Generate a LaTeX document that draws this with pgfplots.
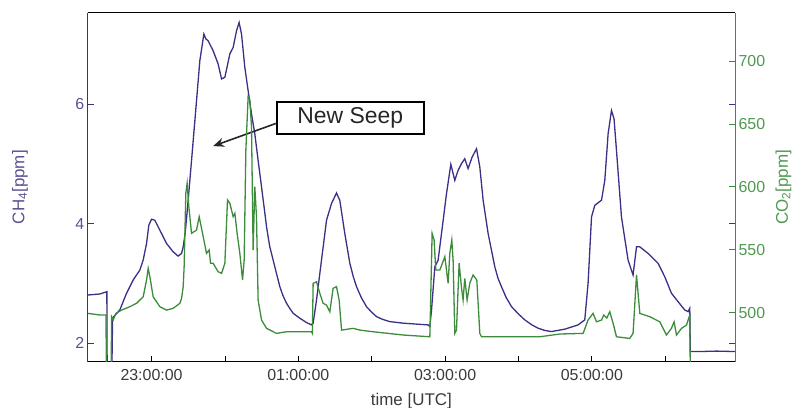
\documentclass[border=0pt]{standalone}
\usepackage{fontspec}
\setmainfont{Liberation Sans}
\usepackage{pgfplots}
\pgfplotsset{compat=1.18}
\usetikzlibrary{arrows.meta}
\definecolor{chfour}{HTML}{3D2E86}
\definecolor{cotwo}{HTML}{3C8C3C}
\definecolor{chlab}{HTML}{5A5090}
\definecolor{colab}{HTML}{4E9A4E}
\definecolor{xlab}{HTML}{3A3A3A}
\begin{document}
\begin{tikzpicture}
\begin{axis}[
  name=main,
  scale only axis, width=647.3bp, height=349bp,
  xmin=22.13, xmax=30.95, ymin=1.693, ymax=7.527,
  separate axis lines,
  x axis line style={black, line width=0.9bp},
  y axis line style={chfour, line width=0.9bp},
  xtick pos=bottom, ytick pos=both,
  tick align=inside,
  major tick length=6bp,
  x tick style={black, line width=0.8bp},
  y tick style={chfour, line width=0.8bp},
  xtick={23,24,25,26,27,28,29,30},
  xticklabels={23:00:00,,01:00:00,,03:00:00,,05:00:00,},
  ytick={2,4,6}, yticklabels={2,4,6},
  xticklabel style={xlab, font=\fontsize{16}{18}\selectfont, yshift=-4bp},
  yticklabel style={chlab, font=\fontsize{16}{18}\selectfont},
  xlabel={time [UTC]},
  xlabel style={at={(axis description cs:0.5,-0.112)}, anchor=center, xlab, font=\fontsize{17}{19}\selectfont},
  ylabel={CH\textsubscript{4}[ppm]},
  ylabel style={at={(axis description cs:-0.1046,0.5)}, anchor=center, chlab, font=\fontsize{17}{19}\selectfont},
]
\coordinate (bl) at (rel axis cs:0,0);
\coordinate (tr) at (rel axis cs:1,1);
\addplot[chfour, line width=1.3bp] coordinates {
(22.132,2.808) (22.296,2.825) (22.391,2.863) (22.395,1.6) (22.460,1.6)
(22.469,2.425) (22.568,2.558) (22.659,2.837) (22.749,3.058) (22.841,3.225)
(22.886,3.392) (22.932,3.670) (22.963,3.975) (23.000,4.075) (23.045,4.058)
(23.113,3.892) (23.204,3.670) (23.294,3.530) (23.362,3.458) (23.409,3.503)
(23.431,3.613) (23.458,3.837) (23.499,4.392) (23.545,5.058) (23.613,6.058)
(23.658,6.725) (23.713,7.170) (23.740,7.090) (23.771,7.058) (23.839,6.892)
(23.907,6.670) (23.954,6.420) (23.999,6.447) (24.067,6.837) (24.112,6.947)
(24.158,7.225) (24.193,7.363) (24.226,7.170) (24.271,6.613) (24.316,6.225)
(24.362,5.837) (24.407,5.503) (24.452,5.058) (24.499,4.613) (24.567,3.947)
(24.610,3.620) (24.657,3.392) (24.700,3.180) (24.748,2.947) (24.790,2.800)
(24.839,2.670) (24.880,2.590) (24.929,2.503) (25.020,2.420)
(25.112,2.347) (25.180,2.308) (25.202,2.337) (25.248,2.725) (25.316,3.392)
(25.384,4.058) (25.452,4.337) (25.520,4.513) (25.565,4.392) (25.633,3.837)
(25.702,3.337) (25.750,3.110) (25.793,2.947) (25.860,2.760) (25.929,2.613)
(26.000,2.520) (26.065,2.447) (26.150,2.400) (26.247,2.363)
(26.428,2.337) (26.768,2.308) (26.792,2.280) (26.815,2.558) (26.860,3.280)
(26.905,3.392) (26.951,3.837) (27.019,4.503) (27.078,4.992) (27.132,4.725)
(27.177,4.892) (27.223,5.003) (27.268,5.087) (27.313,4.920) (27.368,5.113)
(27.428,5.253) (27.473,4.947) (27.518,4.392) (27.586,3.837) (27.677,3.280)
(27.720,3.090) (27.768,2.947) (27.830,2.770) (27.905,2.613) (28.000,2.490)
(28.086,2.392) (28.180,2.310) (28.267,2.253) (28.360,2.215) (28.450,2.197)
(28.631,2.237) (28.812,2.308) (28.903,2.392) (28.948,3.003) (28.995,4.113)
(29.040,4.308) (29.131,4.392) (29.176,4.725) (29.221,5.503) (29.267,5.892)
(29.302,5.753) (29.335,5.225) (29.403,4.113) (29.493,3.392) (29.561,3.142)
(29.608,3.613) (29.653,3.613) (29.766,3.503) (29.902,3.337) (29.993,3.113)
(30.084,2.837) (30.174,2.697) (30.265,2.558) (30.311,2.530) (30.334,2.587)
(30.341,1.863) (30.470,1.863) (30.700,1.870) (30.947,1.863)
};
\node[draw=black, line width=2bp, fill=white, minimum width=147bp, minimum height=32bp,
      inner sep=0pt, font=\fontsize{23}{25}\selectfont, text=black!85]
      at (axis cs:25.708,5.775) {New Seep};
\draw[-{Stealth[length=11bp,width=9bp]}, line width=1.6bp, black!85]
      (axis cs:24.693,5.675) -- (axis cs:23.839,5.297);
\end{axis}
\begin{axis}[
  scale only axis, width=647.3bp, height=349bp,
  xmin=22.13, xmax=30.95, ymin=461.1, ymax=738.4,
  axis x line=none, axis y line*=right,
  y axis line style={cotwo, line width=0.9bp},
  tick align=inside, major tick length=6bp,
  y tick style={cotwo, line width=0.8bp},
  ytick={500,550,600,650,700}, yticklabels={500,550,600,650,700},
  yticklabel style={colab, font=\fontsize{16}{18}\selectfont},
  ylabel={CO\textsubscript{2}[ppm]},
  ylabel style={at={(axis description cs:1.0749,0.5)}, anchor=center, colab, font=\fontsize{17}{19}\selectfont},
]
\addplot[cotwo, line width=1.3bp] coordinates {
(22.132,499.5) (22.296,498.2) (22.378,498.2) (22.387,450) (22.450,450)
(22.455,496.8) (22.477,494.2) (22.515,499.5) (22.591,502.1) (22.704,504.8)
(22.796,507.5) (22.886,512.7) (22.932,526.0) (22.954,535.3) (22.977,528.6)
(23.022,512.7) (23.113,504.8) (23.204,502.1) (23.294,503.5) (23.386,507.5)
(23.409,511.4) (23.431,520.7) (23.444,536.6) (23.467,594.9) (23.485,602.9)
(23.508,584.3) (23.545,563.1) (23.613,565.7) (23.649,576.3) (23.695,563.1)
(23.749,547.2) (23.785,549.8) (23.804,539.3) (23.839,539.3) (23.907,532.6)
(23.954,531.3) (23.999,539.3) (24.035,589.6) (24.067,587.0) (24.112,576.3)
(24.135,579.0) (24.166,563.1) (24.203,547.2) (24.240,526.0) (24.262,541.9)
(24.285,629.3) (24.316,671.7) (24.339,669.1) (24.362,647.9) (24.384,549.8)
(24.407,600.2) (24.430,576.3) (24.452,510.1) (24.499,494.2) (24.567,487.6)
(24.703,483.6) (24.839,484.9) (25.020,484.9) (25.180,484.9) (25.191,483.6)
(25.202,523.4) (25.248,524.6) (25.293,515.4) (25.338,507.5) (25.384,506.1)
(25.429,500.8) (25.474,519.4) (25.520,520.7) (25.556,510.1) (25.589,486.2)
(25.747,487.6) (25.838,486.2) (26.019,484.9) (26.428,482.3) (26.792,480.9)
(26.823,563.1) (26.850,557.8) (26.873,533.9) (26.928,533.9) (26.996,544.5)
(27.041,523.4) (27.064,547.2) (27.091,557.8) (27.109,541.9) (27.132,483.6)
(27.155,486.2) (27.191,539.3) (27.227,518.0) (27.245,510.1) (27.268,527.3)
(27.300,510.1) (27.336,523.4) (27.381,530.0) (27.432,526.0) (27.473,483.6)
(27.496,480.9) (27.745,480.9) (28.018,480.9) (28.290,480.9) (28.563,483.1)
(28.880,483.6) (28.948,494.2) (29.016,499.5) (29.063,492.8) (29.131,494.2)
(29.162,498.2) (29.203,495.8) (29.244,500.8) (29.289,491.6) (29.335,480.9)
(29.516,479.6) (29.561,483.6) (29.608,530.0) (29.653,499.5) (29.790,496.8)
(29.926,492.8) (30.016,482.3) (30.084,487.6) (30.120,492.8) (30.153,482.3)
(30.221,487.6) (30.289,490.2) (30.334,498.2) (30.341,450)
};
\end{axis}
\pgfresetboundingbox
\path ([shift={(-87.7bp,-46.3bp)}]bl) rectangle ([shift={(60bp,12.7bp)}]tr);
\end{tikzpicture}
\end{document}
